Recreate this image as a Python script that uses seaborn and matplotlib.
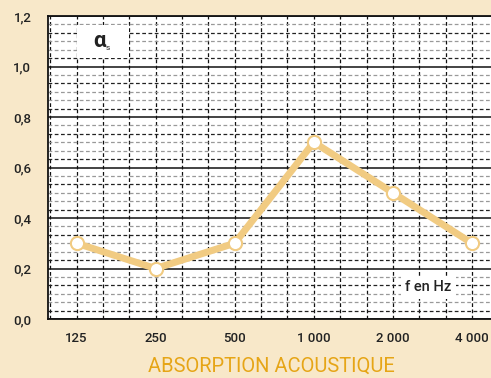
import numpy as np
import pandas as pd
import seaborn as sns
import matplotlib.pyplot as plt
from matplotlib.patches import Rectangle

frequencies = ['125', '250', '500', '1 000', '2 000', '4 000']
alpha_s = [0.30, 0.20, 0.30, 0.70, 0.50, 0.30]
y_ticks = [0.0, 0.2, 0.4, 0.6, 0.8, 1.0, 1.2]
y_labels = ['0,0', '0,2', '0,4', '0,6', '0,8', '1,0', '1,2']

bg = '#f8e8c9'
tan = '#f1cb82'
gold = '#e6a516'

df = pd.DataFrame({'octave': np.arange(len(frequencies)), 'alpha': alpha_s})

sns.set_style('white')
plt.rcParams['font.family'] = ['Roboto', 'DejaVu Sans']

fig = plt.figure(figsize=(4.91, 3.78), dpi=100, facecolor=bg)
# axes run to the right edge of the picture, as in the reference
ax = fig.add_axes([48 / 491, 59 / 378, 443 / 491, 303 / 378])
ax.set_facecolor('white')

px_per_oct = 79.1
x_lo = -28.5 / px_per_oct
x_hi = x_lo + 443 / px_per_oct
ax.set_xlim(x_lo, x_hi)
ax.set_ylim(0, 1.2)

# third-octave vertical grid
for v in np.arange(-1, 17) / 3:
    if x_lo < v < x_hi:
        ax.axvline(v, color='#111111', lw=0.9, ls=(0, (3, 2)), zorder=1)

# horizontal grid: solid every 0.2, dashed in between
minor_cols = ['#222222', '#999999', '#999999', '#222222', '#999999']
for k in range(6):
    for j in range(1, 6):
        ax.axhline(k * 0.2 + j * 0.2 / 6, color=minor_cols[j - 1], lw=0.9,
                   ls=(0, (3, 2)), zorder=1)
for yv in y_ticks:
    ax.axhline(yv, color='#111111', lw=1.1, zorder=1.5)

for s in ['top', 'bottom', 'left']:
    ax.spines[s].set_color('#111111')
    ax.spines[s].set_linewidth(1.3)
ax.spines['right'].set_visible(False)

sns.lineplot(data=df, x='octave', y='alpha', ax=ax, color=tan, lw=5,
             marker='o', markersize=9.5, markerfacecolor='white',
             markeredgecolor=tan, markeredgewidth=1.5, zorder=5)

ax.set_xticks(df['octave'])
ax.set_xticklabels(frequencies)
ax.set_yticks(y_ticks)
ax.set_yticklabels(y_labels)
ax.tick_params(length=0, labelsize=9.5, colors='#222222')
ax.tick_params(axis='x', pad=9)
ax.tick_params(axis='y', pad=12)
for lab in ax.get_xticklabels() + ax.get_yticklabels():
    lab.set_fontweight('medium')
ax.set_xlabel('')
ax.set_ylabel('')

# alpha_s label box
ax.add_patch(Rectangle((0.01, 1.035), 0.65, 0.13, fc='white', ec='none',
                       zorder=6))
ax.text(0.29, 1.1, 'α', ha='center', va='center', fontsize=16,
        fontweight='bold', color='#222222', zorder=7)
ax.text(0.39, 1.075, 's', ha='center', va='center', fontsize=6,
        color='#222222', zorder=7)
ax.text(4.45, 0.125, 'f en Hz', ha='center', va='center', fontsize=10.5,
        fontweight='medium', color='#222222', zorder=6,
        bbox=dict(boxstyle='square,pad=0.3', fc='white', ec='none'))

fig.text(271 / 491, 1 - 366 / 378, 'ABSORPTION ACOUSTIQUE', ha='center',
         va='center', fontsize=14.5, color=gold)

fig.savefig('out.png', dpi=100, facecolor=bg)
